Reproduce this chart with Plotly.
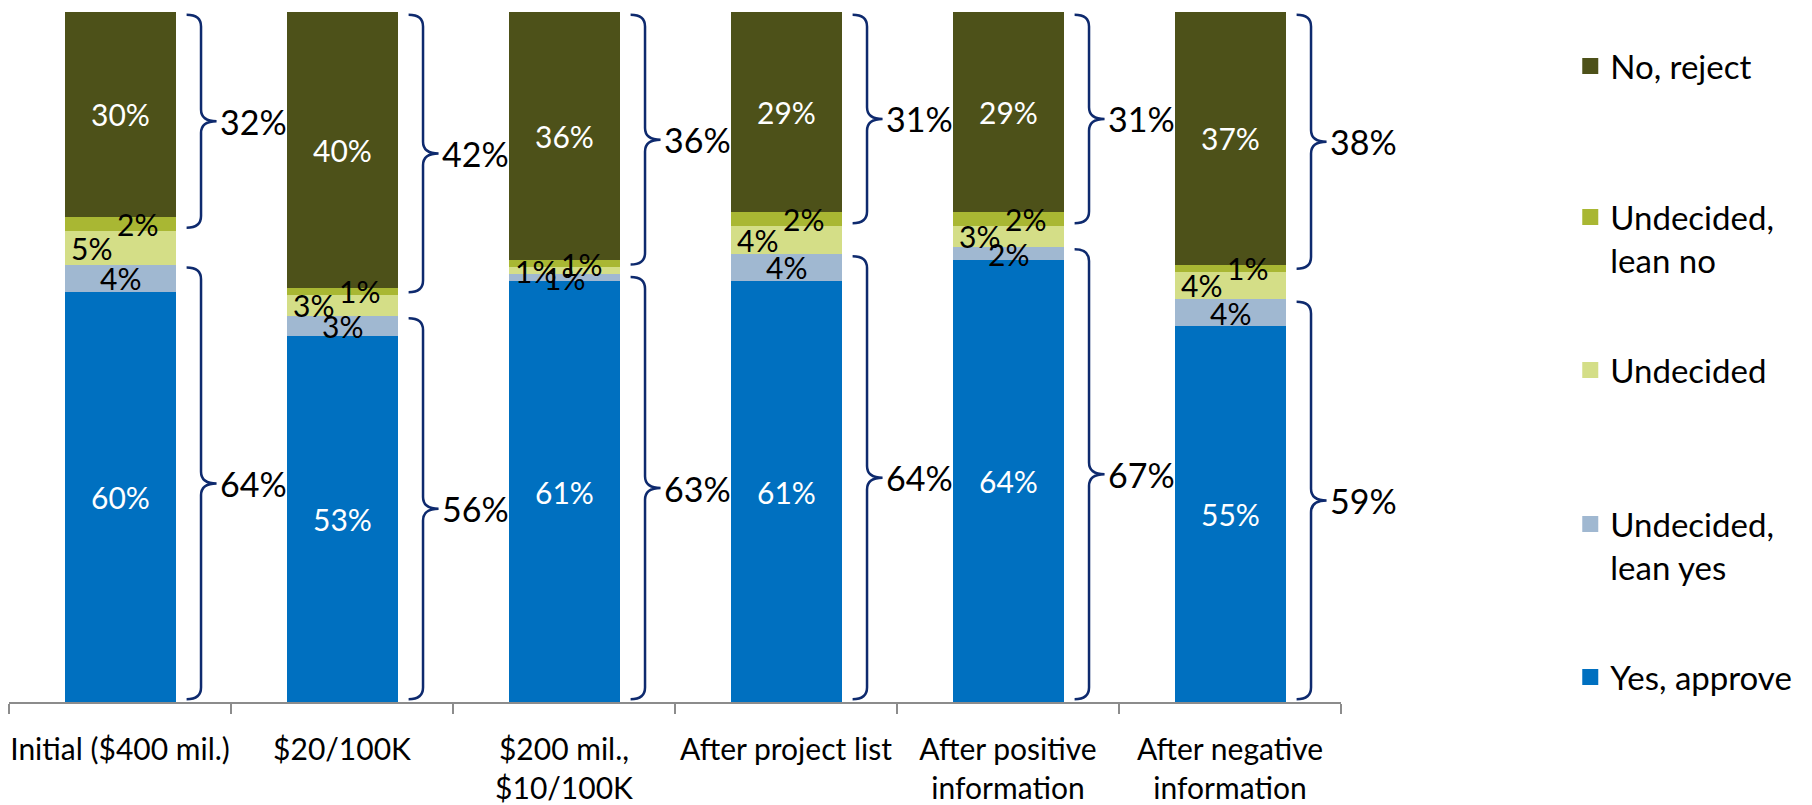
import plotly.graph_objects as go

# ---------------- data ----------------
categories = [
    "Initial ($400 mil.)",
    "$20/100K",
    "$200 mil.,<br>$10/100K",
    "After project list",
    "After positive<br>information",
    "After negative<br>information",
]
series_names = ["Yes, approve", "Undecided,<br>lean yes", "Undecided", "Undecided,<br>lean no", "No, reject"]
yes_approve = [60, 53, 61, 61, 64, 55]
lean_yes = [4, 3, 1, 4, 2, 4]
undecided = [5, 3, 1, 4, 3, 4]
lean_no = [2, 1, 1, 2, 2, 1]
no_reject = [30, 40, 36, 29, 29, 37]
total_yes_labels = [64, 56, 63, 64, 67, 59]
total_no_labels = [32, 42, 36, 31, 31, 38]

# ---------------- style ----------------
FONT = "Lato"
W, H = 1804, 797
colors = ["#0070C0", "#A0B8D1", "#D4DE87", "#A9B733", "#4D5119"]
label_colors = ["white", "black", "black", "black", "white"]
label_xshift = [0, 0, -29, 17, 0]
brace_color = "#0E2A6E"
axis_color = "#8C8C8C"
legend_tops_px = [641, 488, 334, 181, 30]   # legend entry tops, for series order above

series = [yes_approve, lean_yes, undecided, lean_no, no_reject]
n = len(categories)
totals = [sum(s[i] for s in series) for i in range(n)]

fig = go.Figure()
for name, vals, col in zip(series_names, series, colors):
    fig.add_trace(go.Bar(x=categories, y=vals, name=name, marker=dict(color=col, line=dict(width=0)),
                         width=0.5, showlegend=False, hoverinfo="x+y+name"))

# legend proxies (larger square symbols), one legend box per entry
legend_layouts = {}
for k, (name, col) in enumerate(zip(series_names, colors)):
    lg = "legend" if k == 0 else f"legend{k + 1}"
    fig.add_trace(go.Scatter(x=[None], y=[None], mode="markers", name=name, legend=lg,
                             marker=dict(symbol="square", size=16, color=col)))
    legend_layouts[lg] = dict(xref="container", yref="container", x=0.866, y=1 - legend_tops_px[k] / H,
                              xanchor="left", yanchor="top", valign="top",
                              font=dict(family=FONT, size=33, color="black"), bgcolor="rgba(0,0,0,0)")

annotations = []
shapes = []
for i in range(n):
    cum = 0.0
    bounds = [0.0]
    for k, vals in enumerate(series):
        v = vals[i] / totals[i] * 100
        mid = cum + v / 2
        annotations.append(dict(x=i, y=mid, xref="x", yref="y", text=f"{vals[i]}%", showarrow=False,
                                xshift=label_xshift[k],
                                font=dict(family=FONT, size=30, color=label_colors[k])))
        cum += v
        bounds.append(cum)
    # braces: lower (yes + lean yes), upper (lean no + no)
    groups = [(bounds[0], bounds[2], total_yes_labels[i]), (bounds[3], bounds[5], total_no_labels[i])]
    xe, xv, xt = i + 0.30, i + 0.365, i + 0.435
    ry = 1.7
    for (y0, y1, lab) in groups:
        y0b = y0 + 0.4
        y1b = y1 - 0.4
        ym = (y0 + y1) / 2
        path = (f"M {xe},{y1b} Q {xv},{y1b} {xv},{y1b-ry} L {xv},{ym+ry} Q {xv},{ym} {xt},{ym} "
                f"Q {xv},{ym} {xv},{ym-ry} L {xv},{y0b+ry} Q {xv},{y0b} {xe},{y0b}")
        shapes.append(dict(type="path", path=path, xref="x", yref="y",
                           line=dict(color=brace_color, width=2.5)))
        annotations.append(dict(x=i + 0.44, y=ym, xref="x", yref="y", text=f"{lab}%", showarrow=False,
                                xanchor="left", font=dict(family=FONT, size=34, color="black")))

ticktext = [c.replace("$", "&#36;") for c in categories]

fig.update_layout(
    width=W, height=H,
    barmode="stack", barnorm="percent",
    plot_bgcolor="white", paper_bgcolor="white",
    margin=dict(l=1, r=471, t=4, b=103, autoexpand=False),
    font=dict(family=FONT, size=30, color="black"),
    xaxis=dict(type="category", tickmode="array", tickvals=categories, ticktext=ticktext,
               range=[-0.5, n - 0.5], autorange=False,
               tickson="boundaries", ticks="outside", ticklen=10, tickwidth=1.5, tickcolor=axis_color,
               showline=True, linecolor=axis_color, linewidth=1.5, showgrid=False, tickangle=0,
               tickfont=dict(family=FONT, size=30, color="black"), ticklabelstandoff=20,
               automargin=False, fixedrange=True),
    yaxis=dict(visible=False, range=[0, 100], fixedrange=True),
    annotations=annotations,
    shapes=shapes,
    **legend_layouts,
)

fig.write_html("out.html")
